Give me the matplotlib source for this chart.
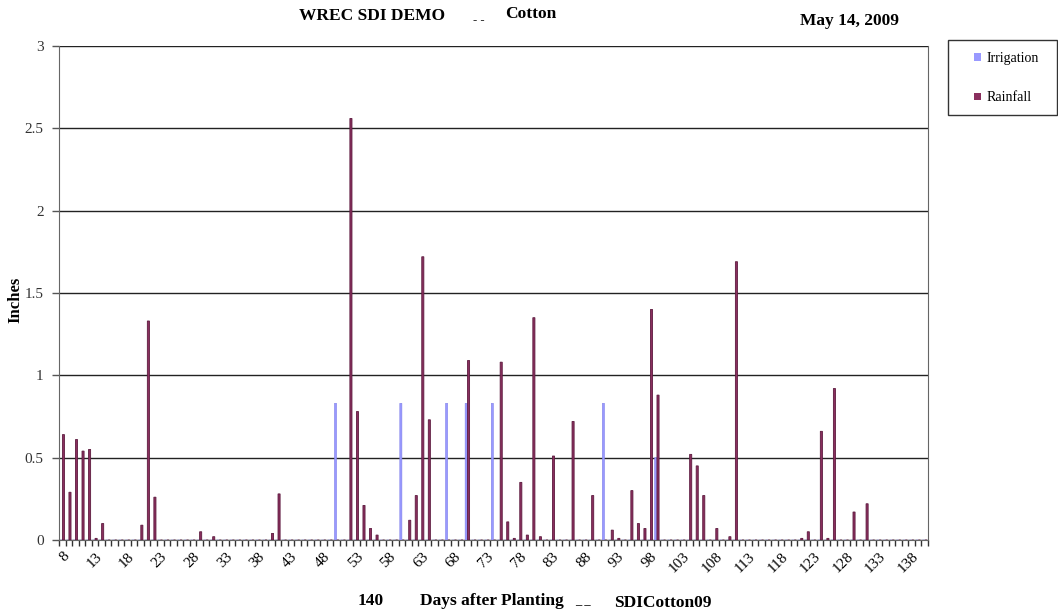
import numpy as np
import matplotlib
matplotlib.use("Agg")
from matplotlib import pyplot as plt
from matplotlib.patches import Patch, Rectangle

# days after planting shown on the axis
days = list(range(8, 141))
tick_days = list(range(8, 139, 5))

# rainfall events (day, inches)
rain_days = [8, 9, 10, 11, 12, 13, 14, 20, 21, 22, 29, 31, 40, 41,
             52, 53, 54, 55, 56, 61, 62, 63, 64, 70, 75, 76, 77, 78,
             79, 80, 81, 83, 86, 89, 92, 93, 95, 96, 97, 98, 99, 104,
             105, 106, 108, 110, 111, 121, 122, 124, 125, 126, 129, 131]
rain_in = [0.64, 0.29, 0.61, 0.54, 0.55, 0.01, 0.10, 0.09, 1.33, 0.26, 0.05, 0.02, 0.04, 0.28,
           2.56, 0.78, 0.21, 0.07, 0.03, 0.12, 0.27, 1.72, 0.73, 1.09, 1.08, 0.11, 0.01, 0.35,
           0.03, 1.35, 0.02, 0.51, 0.72, 0.27, 0.06, 0.01, 0.30, 0.10, 0.07, 1.40, 0.88, 0.52,
           0.45, 0.27, 0.07, 0.02, 1.69, 0.01, 0.05, 0.66, 0.01, 0.92, 0.17, 0.22]

# irrigation events (day, inches)
irr_days = [50, 60, 67, 70, 74, 91, 99]
irr_in = [0.83, 0.83, 0.83, 0.83, 0.83, 0.83, 0.50]

IRR_COLOR = "#9999ff"
RAIN_COLOR = "#8a2f5e"
SERIF = "Liberation Serif"

rain = np.zeros(len(days))
irr = np.zeros(len(days))
for d, v in zip(rain_days, rain_in):
    rain[days.index(d)] = v
for d, v in zip(irr_days, irr_in):
    irr[days.index(d)] = v

W, H = 1058, 614
fig = plt.figure(figsize=(W / 100, H / 100), dpi=100, facecolor="white")
ax = fig.add_axes([59 / W, 1 - 540 / H, (928 - 59) / W, (540 - 46) / H])

x = np.arange(len(days))
w = 0.32
ax.bar(x - 0.18, irr, width=w, color=IRR_COLOR, edgecolor="#8080e8", linewidth=0.4,
       zorder=3, snap=False)
ax.bar(x + 0.18, rain, width=w, color=RAIN_COLOR, edgecolor="#5c1a3e", linewidth=0.6,
       zorder=3, snap=False)

ax.set_xlim(-0.5, len(days) - 0.5)
ax.set_ylim(0, 3)
ax.set_yticks([0, 0.5, 1, 1.5, 2, 2.5, 3])
ax.set_yticklabels(["0", "0.5", "1", "1.5", "2", "2.5", "3"], family=SERIF, fontsize=11,
                   color="#333333")
ax.yaxis.grid(True, color="#222222", linewidth=1.0, zorder=0)
ax.tick_params(axis="y", length=5, width=1, color="#555555", pad=6)

ax.set_xticks([days.index(d) for d in tick_days])
ax.set_xticklabels([str(d) for d in tick_days], rotation=45, ha="right", va="top",
                   rotation_mode="anchor", family=SERIF, fontsize=11)
ax.set_xticks(np.arange(len(days) + 1) - 0.5, minor=True)
ax.tick_params(axis="x", which="major", length=0, pad=7)
ax.tick_params(axis="x", which="minor", length=4, width=1, color="#333333")

for side in ("left", "bottom", "right"):
    ax.spines[side].set_color("#666666")
ax.spines["top"].set_visible(False)

bold = dict(family=SERIF, fontweight="bold")
fig.text(15 / W, 1 - 300 / H, "Inches", rotation=90, ha="center", va="center", fontsize=12, **bold)

fig.text(372 / W, 1 - 16 / H, "WREC SDI DEMO", ha="center", va="center", fontsize=12.5, **bold)
fig.text(479 / W, 1 - 20 / H, "- -", ha="center", va="center", fontsize=9, **bold)
fig.text(531 / W, 1 - 14 / H, "Cotton", ha="center", va="center", fontsize=12.5, **bold)
fig.text(850 / W, 1 - 21 / H, "May 14, 2009", ha="center", va="center", fontsize=12.5, **bold)

fig.text(371 / W, 1 - 601 / H, "140", ha="center", va="center", fontsize=12.5, **bold)
fig.text(492 / W, 1 - 601 / H, "Days after Planting", ha="center", va="center", fontsize=12.5, **bold)
fig.text(583 / W, 1 - 600 / H, "_ _", ha="center", va="center", fontsize=9, **bold)
fig.text(663 / W, 1 - 603 / H, "SDICotton09", ha="center", va="center", fontsize=12.5, **bold)

# legend box drawn to match the reference's wide frame
fig.patches.append(Rectangle((948 / W, 1 - 115 / H), 109 / W, 75 / H, transform=fig.transFigure,
                             facecolor="white", edgecolor="#333333", linewidth=1.0))
handles = [Patch(facecolor=IRR_COLOR, label="Irrigation"),
           Patch(facecolor=RAIN_COLOR, label="Rainfall")]
fig.legend(handles=handles, loc="upper left", bbox_to_anchor=(974 / W, 1 - 52 / H),
           prop={"family": SERIF, "size": 10}, frameon=False,
           handlelength=0.5, handleheight=0.5, handletextpad=0.4,
           labelspacing=1.9, borderpad=0, borderaxespad=0)

fig.savefig("out.png", dpi=100)
